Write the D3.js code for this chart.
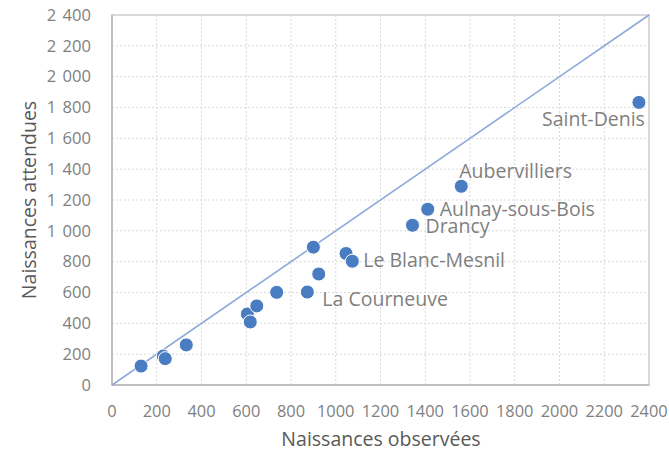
<!DOCTYPE html>
<html lang="fr">
<head>
    <meta charset="UTF-8">
    <title>Naissances observées et attendues</title>
    <script src="https://cdn.jsdelivr.net/npm/d3@7"></script>
    <style>
        body { margin: 0; background: #fff; }
        text { font-family: "Open Sans", sans-serif; }
    </style>
</head>
<body>
<script type="text/javascript">

    // data
    var observees = [130, 229, 238, 332, 605, 618, 647, 736, 873, 900, 924, 1046, 1074, 1343, 1411, 1561, 2355];
    var attendues = [123, 188, 171, 260, 461, 409, 513, 601, 603, 894, 720, 853, 803, 1036, 1140, 1289, 1833];
    var communes  = ["", "", "", "", "", "", "", "", "La Courneuve", "", "", "", "Le Blanc-Mesnil",
                     "Drancy", "Aulnay-sous-Bois", "Aubervilliers", "Saint-Denis"];
    var xTicks = [0, 200, 400, 600, 800, 1000, 1200, 1400, 1600, 1800, 2000, 2200, 2400];
    var yTicks = [0, 200, 400, 600, 800, 1000, 1200, 1400, 1600, 1800, 2000, 2200, 2400];

    // label placement: dx, dy from the point, anchor
    var labelPos = {
        "La Courneuve":     [15, 7, "start"],
        "Le Blanc-Mesnil":  [11, -1, "start"],
        "Drancy":           [13, 1, "start"],
        "Aulnay-sous-Bois": [12, 0, "start"],
        "Aubervilliers":    [-2, -15, "start"],
        "Saint-Denis":      [6, 17, "end"]
    };

    var w = 669, h = 451;
    var pLeft = 112, pRight = 649, pTop = 15, pBottom = 385;

    var x = d3.scaleLinear().domain([0, 2400]).range([pLeft, pRight]);
    var y = d3.scaleLinear().domain([0, 2400]).range([pBottom, pTop]);

    var svg = d3.select("body").append("svg")
        .attr("width", w)
        .attr("height", h);

    // grid
    svg.append("g").selectAll("line")
        .data(xTicks.slice(1, -1))
        .enter().append("line")
        .attr("x1", function(d) { return x(d); })
        .attr("x2", function(d) { return x(d); })
        .attr("y1", pTop).attr("y2", pBottom)
        .attr("stroke", "#d9d9d9")
        .attr("stroke-dasharray", "2,2");

    svg.append("g").selectAll("line")
        .data(yTicks.slice(1, -1))
        .enter().append("line")
        .attr("x1", pLeft).attr("x2", pRight)
        .attr("y1", function(d) { return y(d); })
        .attr("y2", function(d) { return y(d); })
        .attr("stroke", "#d9d9d9")
        .attr("stroke-dasharray", "2,2");

    // plot border
    svg.append("rect")
        .attr("x", pLeft).attr("y", pTop)
        .attr("width", pRight - pLeft).attr("height", pBottom - pTop)
        .attr("fill", "none")
        .attr("stroke", "#d9d9d9")
        .attr("stroke-width", 2);

    // axes lines
    svg.append("line")
        .attr("x1", pLeft).attr("x2", pLeft).attr("y1", pTop).attr("y2", pBottom)
        .attr("stroke", "#bfbfbf").attr("stroke-width", 2);
    svg.append("line")
        .attr("x1", pLeft).attr("x2", pRight).attr("y1", pBottom).attr("y2", pBottom)
        .attr("stroke", "#bfbfbf").attr("stroke-width", 2);

    // tick labels
    var fmt = function(d) { return d3.format(",")(d).replace(/,/g, " "); };

    svg.append("g").selectAll("text")
        .data(yTicks)
        .enter().append("text")
        .attr("x", 91)
        .attr("y", function(d) { return y(d); })
        .attr("dy", "0.35em")
        .attr("text-anchor", "end")
        .attr("font-size", "16.6px")
        .attr("word-spacing", "2px")
        .attr("fill", "#7f7f7f")
        .text(fmt);

    svg.append("g").selectAll("text")
        .data(xTicks)
        .enter().append("text")
        .attr("x", function(d) { return x(d); })
        .attr("y", 411)
        .attr("dy", "0.35em")
        .attr("text-anchor", "middle")
        .attr("font-size", "16.4px")
        .attr("fill", "#7f7f7f")
        .text(function(d) { return d; });

    // axis titles
    svg.append("text")
        .attr("x", 381).attr("y", 446)
        .attr("text-anchor", "middle")
        .attr("font-size", "19.5px")
        .attr("fill", "#595959")
        .text("Naissances observées");

    svg.append("text")
        .attr("transform", "translate(29,200) rotate(-90)")
        .attr("dy", "0.35em")
        .attr("text-anchor", "middle")
        .attr("font-size", "19.5px")
        .attr("fill", "#595959")
        .text("Naissances attendues");

    // diagonal y = x
    svg.append("line")
        .attr("x1", x(0)).attr("y1", y(0))
        .attr("x2", x(2400)).attr("y2", y(2400))
        .attr("stroke", "#8eaadb")
        .attr("stroke-width", 1.6);

    // points
    var pts = observees.map(function(d, i) {
        return { o: d, a: attendues[i], nom: communes[i] };
    });

    svg.append("g").selectAll("circle")
        .data(pts)
        .enter().append("circle")
        .attr("cx", function(d) { return x(d.o); })
        .attr("cy", function(d) { return y(d.a); })
        .attr("r", 7)
        .attr("fill", "#4a7cc1")
        .attr("stroke", "#ffffff")
        .attr("stroke-width", 1);

    // labels
    svg.append("g").selectAll("text")
        .data(pts.filter(function(d) { return d.nom !== ""; }))
        .enter().append("text")
        .attr("x", function(d) { return x(d.o) + labelPos[d.nom][0]; })
        .attr("y", function(d) { return y(d.a) + labelPos[d.nom][1]; })
        .attr("dy", "0.35em")
        .attr("text-anchor", function(d) { return labelPos[d.nom][2]; })
        .attr("font-size", "19.5px")
        .attr("fill", "#7f7f7f")
        .text(function(d) { return d.nom; });

</script>
</body>
</html>
